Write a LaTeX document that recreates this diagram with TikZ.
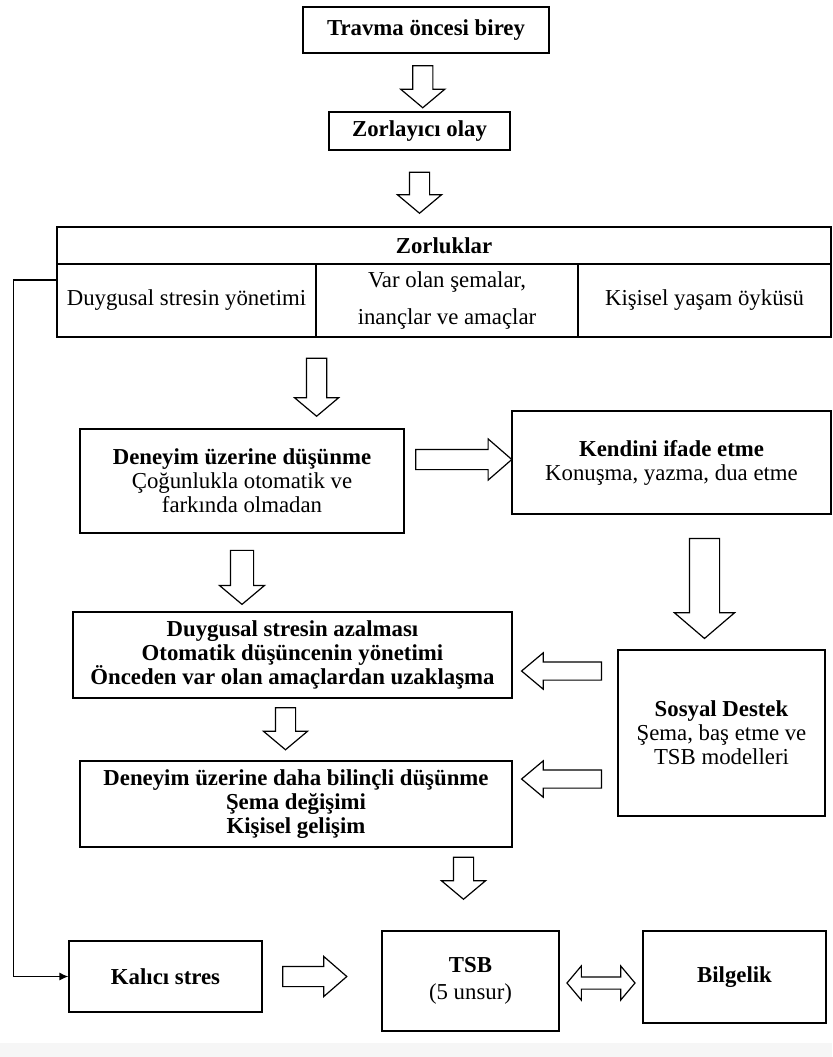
\documentclass[tikz,border=0pt]{standalone}
\usepackage{fontspec}
\setmainfont{Liberation Serif}
\usepackage{tikz}
\usetikzlibrary{calc,shapes.arrows,arrows.meta}
\tikzset{
    box/.style = {draw, line width=0.6pt, rectangle, align=center, inner sep=0pt, font=\fontsize{11.4}{12}\selectfont},
    hollow-arrow/.style = {single arrow, draw, line width=0.6pt, inner sep=4.75pt, single arrow head extend=6pt, single arrow tip angle=100, minimum height=#1},
    arrow-down/.style = {hollow-arrow=#1, shape border rotate=270},
    arrow-right/.style = {hollow-arrow=#1, single arrow tip angle=82, single arrow head extend=5.25pt},
    arrow-left/.style = {hollow-arrow=#1, shape border rotate=180, single arrow tip angle=80, inner sep=4.25pt, single arrow head extend=4.5pt},
}

\begin{document}
\begin{tikzpicture}[x=0.5pt, y=-0.5pt]
\useasboundingbox (0,0) rectangle (832,1057);
\fill[gray!7] (0,1043) rectangle (832,1057);

\node[box, minimum width=123pt, minimum height=23pt] (pre) at (426,30) {\textbf{Travma öncesi birey}};
\node[box, minimum width=90.5pt, minimum height=19pt] (event) at (419.5,131) {\textbf{Zorlayıcı olay}};

\node[box, minimum width=387pt, minimum height=18.5pt] (head) at (444,245.5) {\textbf{Zorluklar}};
\node[box, minimum width=129.5pt, minimum height=36.5pt] (cellA) at (186.5,300.5) {Duygusal stresin yönetimi};
\node[box, minimum width=131pt, minimum height=36.5pt] (cellB) at (447,300.5) {Var olan şemalar,\\[6.5pt]inançlar ve amaçlar};
\node[box, minimum width=126.5pt, minimum height=36.5pt] (cellC) at (704.5,300.5) {Kişisel yaşam öyküsü};

\node[box, minimum width=162pt, minimum height=52pt] (reflect) at (242,481) {\textbf{Deneyim üzerine düşünme}\\Çoğunlukla otomatik ve\\farkında olmadan};
\node[box, minimum width=159.5pt, minimum height=51.5pt] (express) at (671.5,462.5) {\textbf{Kendini ifade etme}\\Konuşma, yazma, dua etme};
\node[box, minimum width=219.5pt, minimum height=43pt, font=\fontsize{11.4}{12}\selectfont\bfseries] (relief) at (292.5,655) {Duygusal stresin azalması\\Otomatik düşüncenin yönetimi\\Önceden var olan amaçlardan uzaklaşma};
\node[box, minimum width=103.5pt, minimum height=83pt] (social) at (721.5,733) {\textbf{Sosyal Destek}\\Şema, baş etme ve\\TSB modelleri};
\node[box, minimum width=216pt, minimum height=43pt, font=\fontsize{11.4}{12}\selectfont\bfseries] (conscious) at (296,804) {Deneyim üzerine daha bilinçli düşünme\\Şema değişimi\\Kişisel gelişim};

\node[box, minimum width=96.5pt, minimum height=35.5pt] (stress) at (165.5,976.5) {\textbf{Kalıcı stres}};
\node[box, minimum width=88.5pt, minimum height=50pt] (ptg) at (470.5,981) {\textbf{TSB}\\[1.5pt](5 unsur)};
\node[box, minimum width=91.5pt, minimum height=46pt] (wisdom) at (734.5,977) {\textbf{Bilgelik}};

\node[arrow-down=21pt] (a1) at ($(pre.south)!.5!(event.north)$) {};
\node[arrow-down=20.5pt] (a2) at ($(event.south)!.5!(event.south |- head.north)$) {};
\node[arrow-down=29pt] (a3) at ($(cellA.south east)!.5!(cellA.south east |- reflect.north)$) {};
\node[arrow-down=27pt, inner sep=5.5pt, single arrow head extend=5.5pt] (a4) at ($(reflect.south)!.5!(reflect.south |- relief.north)$) {};
\node[arrow-down=21pt] (a5) at ($(relief.south)!.5!(relief.south |- conscious.north)+(-7,-5)$) {};
\node[arrow-down=21pt] (a6) at ($(conscious.south -| ptg.north)!.5!(ptg.north)+(-7,-15)$) {};
\node[arrow-right=48pt] (a7) at ($(reflect.east |- express.west)!.5!(express.west)+(0,-3)$) {};
\node[arrow-down=50pt, inner sep=7.25pt, single arrow head extend=7.5pt, single arrow tip angle=99] (a8) at ($(express.south -| social.north)!.5!(social.north)+(-17,0)$) {};
\node[arrow-left=40pt] (a9) at ($(relief.east)!.5!(relief.east -| social.west)+(2,16)$) {};
\node[arrow-left=40pt] (a10) at ($(conscious.east)!.5!(conscious.east -| social.west)+(2,-25)$) {};
\node[arrow-right=32pt, single arrow head extend=5pt] (a11) at ($(stress.east)!.5!(stress.east -| ptg.west)+(-13,0)$) {};
\node[double arrow, draw, line width=0.6pt, inner sep=2.75pt, double arrow head extend=5.5pt, double arrow tip angle=100, minimum height=34pt] (a12) at ($(ptg.east)!.5!(wisdom.west)+(0,4)$) {};

\draw[line width=0.6pt, -{Latex[length=4.5pt,width=4pt]}] ($(cellA.west)+(0,-20.5)$) -- ++(-43,0) |- (stress.west);
\end{tikzpicture}
\end{document}
